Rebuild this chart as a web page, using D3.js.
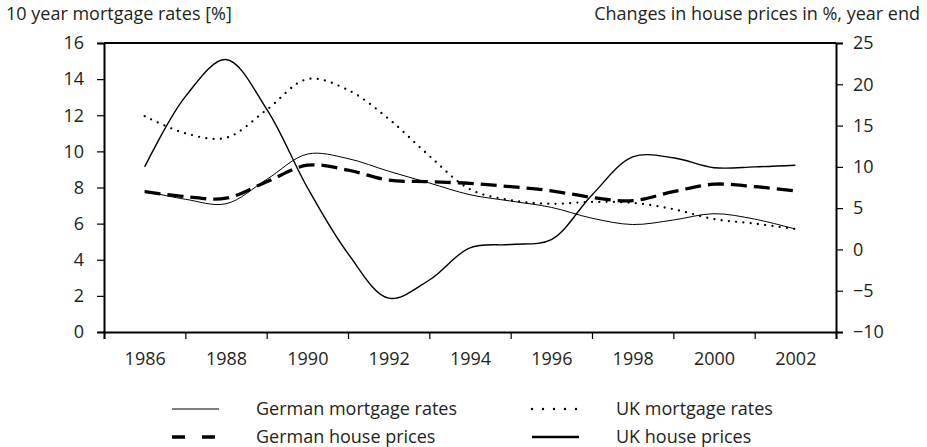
<!DOCTYPE html>
<html>
<head>
<meta charset="utf-8">
<script src="https://cdn.jsdelivr.net/npm/d3@7"></script>
<style>
  html, body { margin: 0; padding: 0; background: #fff; }
  svg { display: block; }
  text { font-family: "Open Sans", "Noto Sans", sans-serif; fill: #231f20; }
</style>
</head>
<body>
<svg id="chart" width="927" height="447"></svg>
<script>
// Annual observations, 1986–2002
const years = [1986, 1987, 1988, 1989, 1990, 1991, 1992, 1993, 1994, 1995, 1996, 1997, 1998, 1999, 2000, 2001, 2002];
// 10 year mortgage rates, % (left axis)
const germanMortgage = [7.8, 7.35, 7.1, 8.45, 9.85, 9.6, 8.9, 8.25, 7.6, 7.25, 6.9, 6.3, 5.95, 6.2, 6.55, 6.25, 5.7];
const ukMortgage = [11.95, 11.0, 10.75, 12.3, 14.0, 13.4, 11.8, 9.75, 7.9, 7.3, 7.1, 7.2, 7.15, 6.8, 6.25, 6.0, 5.7];
// Changes in house prices, %, year end (right axis)
const germanHouse = [7.0, 6.4, 6.2, 8.2, 10.2, 9.6, 8.4, 8.2, 8.0, 7.6, 7.1, 6.3, 5.9, 7.0, 7.9, 7.6, 7.1];
const ukHouse = [10.0, 18.5, 23.0, 17.0, 7.5, -0.5, -5.9, -3.7, 0.2, 0.6, 1.2, 6.6, 11.2, 11.1, 9.9, 10.0, 10.2];

// Axis ticks and labels
const xLabelYears = [1986, 1988, 1990, 1992, 1994, 1996, 1998, 2000, 2002];
const xTickYears = [1985, 1987, 1989, 1991, 1993, 1995, 1997, 1999, 2001, 2003];
const leftTicks = [0, 2, 4, 6, 8, 10, 12, 14, 16];
const rightTicks = [-10, -5, 0, 5, 10, 15, 20, 25];
const leftTitle = "10 year mortgage rates [%]";
const rightTitle = "Changes in house prices in %, year end";
const legendLabels = ["German mortgage rates", "UK mortgage rates", "German house prices", "UK house prices"];

const svg = d3.select("#chart");
const plot = { left: 104, right: 836, top: 43, bottom: 332 };
const FONT = 18;

const x = d3.scaleLinear().domain([1985, 2003]).range([plot.left, plot.right]);
const yL = d3.scaleLinear().domain([0, 16]).range([plot.bottom, plot.top]);
const yR = d3.scaleLinear().domain([-10, 25]).range([plot.bottom, plot.top]);

const fmtMinus = d => d < 0 ? "\u2212" + Math.abs(d) : String(d);

// Frame: top edge of the plot box
svg.append("line").attr("x1", plot.left).attr("x2", plot.right)
  .attr("y1", plot.top).attr("y2", plot.top)
  .attr("stroke", "#000").attr("stroke-width", 2);

// Left axis
const gL = svg.append("g").attr("transform", `translate(${plot.left},0)`)
  .call(d3.axisLeft(yL).tickValues(leftTicks).tickSize(7).tickPadding(13).tickFormat(fmtMinus));
// Right axis
const gR = svg.append("g").attr("transform", `translate(${plot.right},0)`)
  .call(d3.axisRight(yR).tickValues(rightTicks).tickSize(7).tickPadding(10).tickFormat(fmtMinus));
// Bottom axis: tick marks at odd years, labels centred on even years
const gB = svg.append("g").attr("transform", `translate(0,${plot.bottom})`)
  .call(d3.axisBottom(x).tickValues(xTickYears).tickSize(7).tickFormat(""));
const gBL = svg.append("g").attr("transform", `translate(0,${plot.bottom})`)
  .call(d3.axisBottom(x).tickValues(xLabelYears).tickSize(0).tickPadding(20).tickFormat(d3.format("d")));
gBL.select(".domain").remove();

[gL, gR, gB].forEach(g => {
  g.select(".domain").attr("stroke", "#000").attr("stroke-width", 2);
  g.selectAll(".tick line").attr("stroke", "#000").attr("stroke-width", 1.2);
});
[gL, gR, gBL].forEach(g => {
  g.selectAll(".tick text").style("font-size", FONT + "px").attr("fill", "#231f20")
    .style("font-family", "'Open Sans', 'Noto Sans', sans-serif");
});

// Axis titles
svg.append("text").attr("x", 6).attr("y", 20).style("font-size", FONT + "px").text(leftTitle);
svg.append("text").attr("x", 920).attr("y", 20).attr("text-anchor", "end").style("font-size", FONT + "px").text(rightTitle);

// Series lines
const curve = d3.curveCatmullRom.alpha(0.5);
const lineL = d3.line().x((d, i) => x(years[i])).y(d => yL(d)).curve(curve);
const lineR = d3.line().x((d, i) => x(years[i])).y(d => yR(d)).curve(curve);

const styles = {
  germanMortgage: { width: 1, dash: null, cap: "butt" },
  ukMortgage: { width: 2.3, dash: "0 7.3", cap: "round" },
  germanHouse: { width: 3.3, dash: "16 7", cap: "butt" },
  ukHouse: { width: 1.4, dash: null, cap: "butt" }
};

function drawSeries(data, gen, st) {
  svg.append("path").datum(data).attr("d", gen)
    .attr("fill", "none").attr("stroke", "#000")
    .attr("stroke-width", st.width).attr("stroke-linecap", st.cap)
    .attr("stroke-dasharray", st.dash);
}
drawSeries(germanMortgage, lineL, styles.germanMortgage);
drawSeries(ukMortgage, lineL, styles.ukMortgage);
drawSeries(germanHouse, lineR, styles.germanHouse);
drawSeries(ukHouse, lineR, styles.ukHouse);

// Legend
const legendItems = [
  { label: legendLabels[0], x: 172, y: 409, width: 1, dash: null, cap: "butt" },
  { label: legendLabels[1], x: 532, y: 409, width: 2.4, dash: "0 11", cap: "round" },
  { label: legendLabels[2], x: 172, y: 437, width: 3.4, dash: "13 17", cap: "butt" },
  { label: legendLabels[3], x: 532, y: 437, width: 2.5, dash: null, cap: "butt" }
];
const leg = svg.append("g");
legendItems.forEach(it => {
  leg.append("line").attr("x1", it.x).attr("x2", it.x + 47)
    .attr("y1", it.y).attr("y2", it.y)
    .attr("stroke", "#000").attr("stroke-width", it.width)
    .attr("stroke-linecap", it.cap).attr("stroke-dasharray", it.dash);
  leg.append("text").attr("x", it.x + 84).attr("y", it.y).attr("dy", "0.35em")
    .style("font-size", FONT + "px").text(it.label);
});
</script>
</body>
</html>
